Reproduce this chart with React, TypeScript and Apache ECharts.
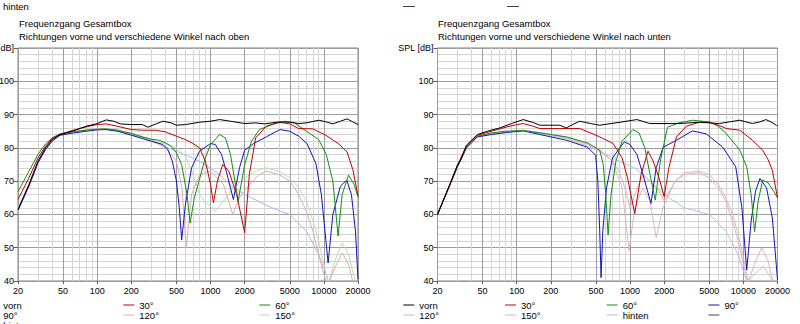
import React, { useEffect, useRef } from 'react';
import * as echarts from 'echarts';

type Pt = [number, number];

const FREQ_LABELS = [20, 50, 100, 200, 500, 1000, 2000, 5000, 10000, 20000];
const FREQ_MINOR = [30, 40, 60, 70, 80, 90, 300, 400, 600, 700, 800, 900, 3000, 4000, 6000, 7000, 8000, 9000];
const DB_MIN = 40;
const DB_MAX = 110;
const DB_STEP = 10;

const NAMES = ['vorn', '30°', '60°', '90°', '120°', '150°', 'hinten'];
const LEFT_COLORS = ['#000000', '#c00000', '#10900f', '#1414b4', '#e0aab4', '#b4e0b0', '#b4b4f0'];
const RIGHT_COLORS = ['#000000', '#c00000', '#10900f', '#1414b4', '#e4b0bc', '#d8b8c0', '#b0c0f0', '#404060'];

const TITLE_1 = 'Frequenzgang Gesamtbox';
const TITLE_LEFT = 'Richtungen vorne und verschiedene Winkel nach oben';
const TITLE_RIGHT = 'Richtungen vorne und verschiedene Winkel nach unten';

// ---- left panel: "nach oben" ----
const upVorn: Pt[] = [[20, 61.5], [25, 69], [30, 76], [35, 80], [40, 82.5], [47, 84], [60, 85], [80, 86.5], [100, 87.3], [120, 88.4], [140, 88], [160, 87.2], [200, 87], [250, 87], [280, 86.2], [330, 87.2], [380, 88], [450, 87.5], [500, 86.8], [600, 87], [800, 87.7], [1000, 88], [1200, 88.5], [1500, 88], [2000, 87.3], [2500, 87.5], [3000, 87.2], [4000, 87.8], [5000, 87.7], [6000, 87.3], [7000, 87.5], [9000, 88.3], [10500, 87.8], [12000, 87.2], [14000, 88], [16000, 88.7], [18000, 87.8], [20000, 87]];
const up30: Pt[] = [[20, 64.5], [25, 71], [30, 77], [35, 80.5], [40, 82.8], [47, 84], [60, 85.2], [80, 86.3], [100, 87], [120, 87.2], [150, 86.5], [200, 85.5], [250, 85.3], [330, 85.3], [400, 84.8], [500, 83.5], [600, 82.5], [700, 81.3], [800, 80], [900, 76], [1000, 69], [1060, 63.5], [1150, 70], [1280, 75], [1450, 73], [1700, 66], [2000, 54.5], [2200, 72], [2500, 83], [3100, 86.5], [4000, 87.7], [5000, 87.2], [6000, 85.8], [8000, 85.7], [10500, 83.7], [13500, 81.2], [16000, 78.8], [18000, 73.5], [20000, 65.5]];
const up60: Pt[] = [[20, 66.8], [25, 73], [30, 78], [35, 81.2], [40, 83], [47, 84.2], [60, 84.8], [80, 85.3], [100, 85.6], [120, 85.7], [150, 85.3], [200, 84.3], [250, 83.3], [300, 82.6], [350, 82.3], [400, 81.5], [450, 80.5], [500, 78.5], [556, 75], [620, 66], [660, 57.4], [720, 65], [805, 71], [900, 77], [1000, 81], [1200, 84], [1350, 83], [1500, 78], [1750, 64], [2000, 75], [2300, 82], [2700, 85.5], [3500, 87], [4500, 88], [5500, 87.5], [7000, 85], [9000, 82.5], [10500, 78], [12000, 70], [13350, 53.5], [14500, 66], [16500, 71.8], [18500, 69], [20000, 65.3]];
const up90: Pt[] = [[20, 61.3], [25, 68.5], [30, 75.5], [35, 79.5], [40, 82], [47, 83.8], [60, 84.4], [80, 85], [100, 85.4], [120, 85.5], [150, 85], [200, 83.8], [250, 82.8], [300, 82], [380, 81], [420, 79.5], [460, 76], [500, 70], [530, 62], [556, 52.3], [600, 63], [680, 74], [800, 79], [1000, 81.3], [1100, 81], [1250, 78], [1400, 72], [1590, 64.5], [1800, 74], [2000, 79.3], [2400, 81.3], [3100, 83.3], [4100, 85.5], [5000, 85], [6000, 83.5], [7100, 81.3], [8500, 75.3], [9500, 66], [10900, 45.4], [12000, 60], [14000, 68.5], [15900, 70.3], [17500, 66], [19000, 55], [20000, 40.5]];
const up120: Pt[] = [[20, 61], [25, 68.5], [30, 75.5], [35, 79.5], [40, 82], [47, 84], [60, 84.8], [80, 85.4], [100, 85.8], [150, 85.3], [200, 84], [300, 82.5], [400, 80], [500, 76], [560, 68], [610, 50], [680, 66], [800, 72], [1000, 73], [1300, 69], [1570, 60], [1800, 65], [2200, 69], [2700, 72], [3100, 73], [4000, 72], [5000, 70], [6000, 66], [7000, 61], [8000, 55], [9000, 48], [10000, 42], [10800, 38.5], [12500, 44], [14500, 48.5], [16500, 45], [18500, 38]];
const up150: Pt[] = [[20, 62], [25, 69], [30, 76], [35, 80], [40, 82.4], [47, 84], [60, 84.8], [80, 85.5], [100, 85.8], [150, 85.4], [200, 84.5], [300, 82.5], [500, 80], [600, 77.5], [700, 72], [800, 66], [900, 63.5], [1000, 62.5], [1100, 61], [1300, 64], [1600, 68], [2000, 71], [2500, 73], [3100, 74], [4000, 73], [5000, 71], [6000, 68], [7000, 64], [8000, 58], [9000, 52], [10000, 45], [11000, 39.5], [12500, 46], [14500, 51.5], [16500, 48], [18500, 41], [20000, 38]];
const upHinten: Pt[] = [[20, 61.5], [25, 69], [30, 76], [35, 80], [40, 82.3], [47, 83.8], [60, 84.6], [80, 85.2], [100, 85.6], [150, 85.2], [200, 84], [300, 82], [500, 79], [800, 76], [1200, 72], [1600, 68], [2000, 66], [3000, 63], [4100, 61], [5000, 60], [7000, 55], [9000, 48], [10500, 42], [11000, 39], [13000, 38.5]];

// ---- right panel: "nach unten" ----
const downVorn: Pt[] = [[20, 60], [25, 68], [30, 74.8], [32, 76.3], [36, 80.8], [45, 84], [55, 85], [71, 86], [90, 87.3], [114, 88.5], [140, 87.6], [160, 86.8], [240, 86.8], [274, 86], [320, 87.2], [360, 88], [450, 87.3], [540, 86.8], [816, 87.7], [1150, 88.5], [1490, 87.3], [2390, 87.3], [3000, 87.4], [4100, 87.7], [5000, 87.5], [6150, 87.3], [7500, 87.8], [9300, 88.3], [12000, 87.3], [14000, 87.8], [15800, 88.5], [17500, 87.8], [19500, 86.8], [20000, 86.6]];
const down30: Pt[] = [[20, 60], [25, 68], [30, 74.8], [36, 80.6], [45, 83.8], [60, 85], [80, 86.2], [100, 87], [114, 87.3], [140, 86.5], [160, 85.8], [240, 85.8], [360, 85.8], [470, 84.2], [540, 83.3], [710, 81.3], [850, 77], [950, 71], [1100, 60.2], [1250, 72], [1440, 79], [1600, 76], [1800, 71], [2000, 65.3], [2200, 74], [2570, 83.3], [3140, 86.5], [4100, 87.7], [5000, 87.7], [6000, 86.8], [7100, 85.8], [9300, 85.3], [12000, 82.3], [14800, 79.3], [16500, 76.5], [18000, 73.3], [19500, 67], [20000, 65]];
const down60: Pt[] = [[20, 60], [25, 68], [30, 74.5], [36, 80.3], [45, 83.5], [60, 84.5], [80, 85], [114, 85.2], [160, 84.5], [274, 83.3], [420, 81.5], [540, 79.3], [580, 75], [610, 66], [640, 53.8], [680, 66], [750, 76], [850, 82], [1060, 85.5], [1200, 84.5], [1350, 80], [1500, 72], [1670, 64.3], [1850, 76], [2140, 86.2], [2700, 87.5], [3550, 88.3], [5000, 87.8], [6000, 86.5], [7100, 84.2], [9300, 79.3], [10700, 74.3], [11700, 66], [12560, 54.8], [13500, 64], [14800, 70.3], [16500, 69.5], [18500, 67], [20000, 65]];
const down90: Pt[] = [[20, 60], [25, 67.8], [30, 74.3], [36, 80], [45, 83.3], [60, 84], [80, 84.6], [114, 85.1], [160, 84], [274, 82.3], [420, 80.2], [497, 77.8], [520, 70], [540, 55], [555, 41], [575, 55], [620, 68], [700, 77], [890, 81.8], [1000, 81], [1150, 78], [1300, 72], [1530, 63.3], [1700, 74], [1960, 80.2], [2570, 82.3], [3550, 85.1], [4700, 84.2], [6580, 80.2], [8560, 74.3], [9700, 62], [10700, 43.3], [11700, 58], [12800, 67], [14000, 70.8], [16000, 68], [18000, 59], [19500, 45], [20000, 40.3]];
const down120: Pt[] = [[20, 60], [25, 67.8], [30, 74.4], [36, 80], [45, 83.4], [60, 84.2], [80, 84.8], [114, 85.3], [160, 84.5], [274, 83], [420, 81], [540, 79], [700, 76], [800, 73], [900, 68], [1000, 62], [1100, 66], [1300, 72], [1500, 70], [1800, 67], [2000, 64], [2500, 70], [3000, 72], [4000, 72.5], [5000, 71], [6000, 68], [7000, 64], [8000, 58], [9000, 52], [10000, 45], [11000, 39.5], [12500, 45], [14500, 50], [16500, 46], [18500, 39]];
const down150: Pt[] = [[20, 60], [25, 67.8], [30, 74.4], [36, 80], [45, 83.4], [60, 84.2], [80, 84.8], [114, 85.3], [160, 84.6], [274, 83.2], [420, 81.3], [540, 79.5], [700, 76], [850, 68], [980, 49], [1100, 62], [1300, 68], [1500, 64], [1700, 53], [1950, 62], [2500, 70], [3000, 72.5], [4000, 73], [5000, 72], [6000, 69], [7000, 65], [8000, 60], [9000, 54], [10000, 47], [11000, 40], [12500, 42], [15000, 44.5], [17500, 41], [19500, 38]];
const downHinten: Pt[] = [[20, 60], [25, 67.8], [30, 74.3], [36, 80], [45, 83.3], [60, 84.1], [80, 84.6], [114, 85.2], [160, 84.3], [274, 82.8], [420, 80.5], [540, 79], [800, 76], [1100, 74], [1500, 70], [2000, 66], [3000, 62], [3600, 61.3], [5000, 60], [7000, 55], [9000, 48], [10000, 43], [11000, 39], [13000, 38.5]];

const LEFT_DATA = [upVorn, up30, up60, up90, up120, up150, upHinten];
const RIGHT_DATA = [downVorn, down30, down60, down90, down120, down150, downHinten];

const FONT = '"Liberation Sans", Arial, sans-serif';
const FS = 9.5;
const FS_AXIS = 9;

export default function App() {
  const ref = useRef<HTMLDivElement>(null);

  useEffect(() => {
    if (!ref.current) return;
    const chart = echarts.init(ref.current, undefined, { renderer: 'svg' });
    const lg = (v: number) => Math.log10(v);
    const xMin = lg(20);
    const xMax = lg(20000);

    const grids = [
      { left: 18, top: 48, width: 340, height: 233 },
      { left: 437.5, top: 48, width: 340, height: 233 },
    ].map((g) => ({
      ...g,
      show: true,
      borderColor: '#808080',
      borderWidth: 1,
      backgroundColor: '#ffffff',
      containLabel: false,
      outerBoundsMode: 'none',
    }));

    const xAxes: any[] = [];
    const yAxes: any[] = [];
    [0, 1].forEach((gi) => {
      xAxes.push({
        type: 'value',
        gridIndex: gi,
        min: xMin,
        max: xMax,
        position: 'bottom',
        axisLine: { show: false },
        axisTick: { show: true, customValues: FREQ_LABELS.map(lg), length: 3, lineStyle: { color: '#606060' } },
        axisLabel: {
          customValues: FREQ_LABELS.map(lg),
          formatter: (v: number) => String(Math.round(Math.pow(10, v))),
          fontSize: FS_AXIS,
          fontFamily: FONT,
          color: '#000',
          margin: 5,
        },
        splitLine: { show: true, lineStyle: { color: '#9c9c9c', width: 1 } },
      });
      xAxes.push({
        type: 'value',
        gridIndex: gi,
        min: xMin,
        max: xMax,
        position: 'top',
        axisLine: { show: false },
        axisTick: { show: false, customValues: FREQ_MINOR.map(lg) },
        axisLabel: { show: false },
        splitLine: { show: true, lineStyle: { color: '#d4d4d4', width: 1 } },
      });
      yAxes.push({
        type: 'value',
        gridIndex: gi,
        min: DB_MIN,
        max: DB_MAX,
        interval: DB_STEP,
        axisLine: { show: false },
        axisTick: { show: true, length: 4, lineStyle: { color: '#606060' } },
        axisLabel: {
          formatter: (v: number) => (v === DB_MAX ? 'SPL [dB]' : String(v)),
          fontSize: FS_AXIS,
          fontFamily: FONT,
          color: '#000',
          margin: 4,
        },
        splitLine: { show: true, lineStyle: { color: '#9c9c9c', width: 1 } },
        minorTick: { show: false, splitNumber: 5 },
        minorSplitLine: { show: true, lineStyle: { color: '#d4d4d4', width: 1 } },
      });
    });

    const series: any[] = [];
    const addPanel = (data: Pt[][], colors: string[], gi: number) => {
      const order = [6, 5, 4, 3, 2, 1, 0];
      order.forEach((i) => {
        series.push({
          type: 'line',
          name: NAMES[i],
          xAxisIndex: gi * 2,
          yAxisIndex: gi,
          symbol: 'none',
          silent: true,
          lineStyle: { width: 1, color: colors[i] },
          itemStyle: { color: colors[i] },
          data: data[i].map(([f, v]) => [lg(f), v]),
        });
      });
    };
    addPanel(LEFT_DATA, LEFT_COLORS, 0);
    addPanel(RIGHT_DATA, RIGHT_COLORS, 1);
    series.push({
      type: 'line',
      name: ' ',
      xAxisIndex: 2,
      yAxisIndex: 1,
      symbol: 'none',
      lineStyle: { width: 1, color: RIGHT_COLORS[7] },
      itemStyle: { color: RIGHT_COLORS[7] },
      data: [],
    });

    const legendText = (w: number) => ({ fontSize: FS, fontFamily: FONT, color: '#000', width: w, lineHeight: 9 });
    const legendData = (colors: string[], names: string[]) =>
      names.map((n, i) => ({
        name: n,
        icon: 'rect',
        itemStyle: { color: colors[i], borderColor: colors[i], borderWidth: 0 },
        lineStyle: { color: colors[i] },
      }));

    const titleStyle = { fontSize: FS, fontFamily: FONT, color: '#000', fontWeight: 'normal' as const, lineHeight: 12.7 };

    chart.setOption({
      animation: false,
      backgroundColor: '#ffffff',
      textStyle: { fontFamily: FONT },
      title: [
        { text: TITLE_1 + '\n' + TITLE_LEFT, left: 19, top: 17.5, padding: 0, textStyle: titleStyle },
        { text: TITLE_1 + '\n' + TITLE_RIGHT, left: 438, top: 17.5, padding: 0, textStyle: titleStyle },
      ],
      grid: grids,
      xAxis: xAxes,
      yAxis: yAxes,
      legend: [
        {
          left: -12.7,
          top: 300,
          width: 420,
          padding: 0,
          icon: 'rect',
          itemWidth: 11,
          itemHeight: 1,
          itemGap: 0,
          selectedMode: false,
          textStyle: legendText(120),
          data: legendData(LEFT_COLORS, NAMES),
        },
        {
          left: 403.3,
          top: 300,
          width: 410,
          padding: 0,
          icon: 'rect',
          itemWidth: 11,
          itemHeight: 1,
          itemGap: 0,
          selectedMode: false,
          textStyle: legendText(85.7),
          data: legendData(RIGHT_COLORS, [...NAMES, ' ']),
        },
      ],
      graphic: [
        { type: 'text', left: 3, top: 1, style: { text: 'hinten', fontSize: FS, fontFamily: FONT, fill: '#000' } },
        { type: 'line', shape: { x1: 403, y1: 6.5, x2: 415, y2: 6.5 }, style: { stroke: '#404050', lineWidth: 1 } },
        { type: 'line', shape: { x1: 507, y1: 6.5, x2: 519, y2: 6.5 }, style: { stroke: '#404050', lineWidth: 1 } },
      ],
      series,
    });

    return () => chart.dispose();
  }, []);

  return <div ref={ref} style={{ position: 'fixed', left: 0, top: 0, width: 800, height: 324 }} />;
}
